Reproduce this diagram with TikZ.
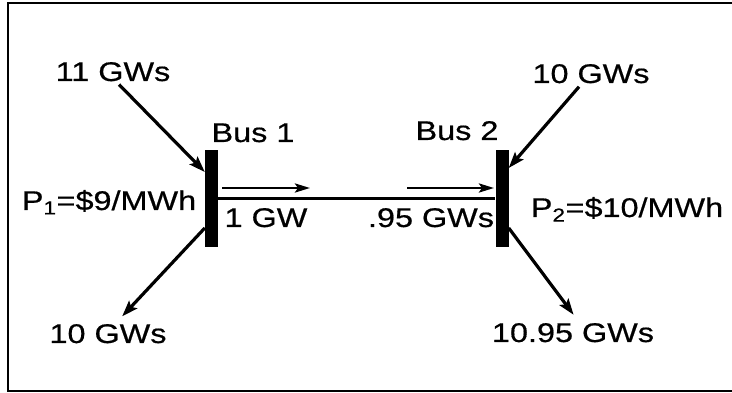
\documentclass[tikz,border=0pt]{standalone}
\usepackage{fontspec}
\setmainfont{Liberation Sans}[FakeStretch=1.2, FakeBold=0.6]
\usetikzlibrary{arrows.meta}

\begin{document}
\begin{tikzpicture}[x=1pt, y=1pt, font=\fontsize{27}{32}\selectfont,
  lbl/.style={inner sep=1pt, anchor=base},
  busbar/.style={fill=black, inner sep=0pt, minimum width=13pt, minimum height=97pt},
  flow/.style={line width=3.2pt, -{Stealth[length=16pt,width=11pt,inset=3pt]}},
  lineflow/.style={line width=2.8pt, -{Stealth[length=15pt,width=9pt,inset=3pt]}}]
\clip (0,0) rectangle (732,393);
\draw[line width=2.6pt] (8,2) rectangle (745,390);
% the two buses and the line between them
\node[busbar] (bus1) at (211.5,194.5) {};
\node[busbar] (bus2) at (502,194.5) {};
\draw[line width=2.8pt] (bus1.east) -- (bus2.west);
\coordinate (f1a) at (222,205); \coordinate (f1b) at (310,205);
\coordinate (f2a) at (407,205); \coordinate (f2b) at (494,205);
\draw[lineflow] (f1a) -- (f1b);
\draw[lineflow] (f2a) -- (f2b);
\node[lbl] (sent) at (266,166) {1 GW};
\node[lbl] (recv) at (431,166) {.95 GWs};
\node[lbl] (nb1) at (253,251) {Bus 1};
\node[lbl] (nb2) at (457,253) {Bus 2};
\node[lbl] (pr1) at (109,183) {P\textsubscript{1}=\$9/MWh};
\node[lbl] (pr2) at (627,176) {P\textsubscript{2}=\$10/MWh};
% generation in, load out
\node[lbl] (gen1) at (113,312) {11 GWs};
\node[lbl] (gen2) at (591,310) {10 GWs};
\node[lbl] (load1) at (108,50) {10 GWs};
\node[lbl] (load2) at (573,51) {10.95 GWs};
\draw[flow, shorten <=3pt] ([xshift=4pt]gen1.south) -- ([yshift=26.5pt]bus1.west);
\draw[flow, shorten <=3pt] ([xshift=-10pt]gen2.south) -- ([yshift=30.5pt]bus2.east);
\draw[flow, shorten >=9pt] ([yshift=-29.5pt]bus1.west) -- ([xshift=8pt]load1.north);
\draw[flow, shorten >=9pt] ([yshift=-29.5pt]bus2.east) -- ([xshift=6pt]load2.north);
\end{tikzpicture}
\end{document}
